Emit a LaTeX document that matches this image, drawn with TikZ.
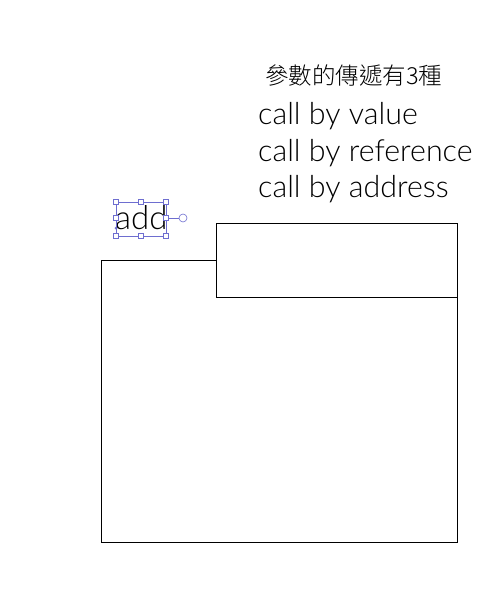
\documentclass[tikz,border=0pt]{standalone}
\usepackage{fontspec}
\setmainfont{Lato}[UprightFont=* Light]
\newfontfamily\cjkfont{Noto Sans CJK TC}[UprightFont=* Light]
\usepackage{xcolor}
\usetikzlibrary{positioning}
\definecolor{handleColor}{HTML}{6E6ED0}

\begin{document}
\begin{tikzpicture}[x=1pt,y=-1pt,
    box/.style={draw,fill=white,line width=0.9pt,inner sep=0pt,anchor=north west},
    label/.style={inner sep=0pt,anchor=base west,font=\fontsize{30.4}{32}\selectfont},
    handle/.style={draw=handleColor,fill=white,line width=0.6pt,minimum size=4.5pt,inner sep=0pt}]
\useasboundingbox (0,0) rectangle (500,597);
% boxes
\node[box,minimum width=356pt,minimum height=282pt] (outer) at (101,260) {};
\node[box,minimum width=241pt,minimum height=74pt] (inner) at (216,223) {};
% texts
\node[inner sep=0pt,anchor=base west,font=\cjkfont\fontsize{23.5}{25}\selectfont] (title) at (265,84) {參數的傳遞有3種};
\node[label] (value) at (258,124) {call by value};
\node[label] (reference) at (258,161) {call by reference};
\node[label] (address) at (258,197) {call by address};
\node[label,font=\fontsize{33}{34}\selectfont] (add) at (115,229) {add};
% selection frame
\draw[handleColor,line width=0.6pt] (116,202) rectangle (166,236);
\draw[handleColor,line width=0.6pt] (166,218) -- (179,218);
\draw[handleColor,fill=white,line width=0.6pt] (183,218) circle (4pt);
\foreach \hx/\hy in {116/202,141/202,166/202,116/218,166/218,116/236,141/236,166/236}
    \node[handle] at (\hx,\hy) {};
\fill[handleColor] (116,228) circle (1.5pt);
\end{tikzpicture}
\end{document}
